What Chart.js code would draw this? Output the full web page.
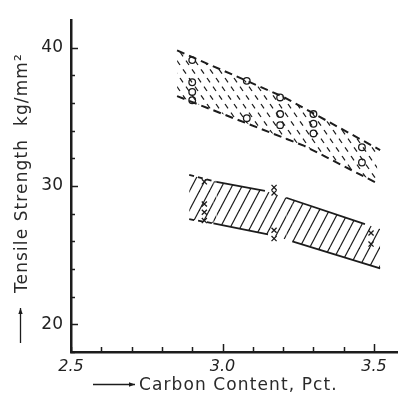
<!DOCTYPE html>
<html>
<head>
<meta charset="utf-8">
<script src="https://cdn.jsdelivr.net/npm/chart.js@4.4.1/dist/chart.umd.min.js"></script>
<style>
  html, body { margin: 0; padding: 0; background: #fff; }
</style>
</head>
<body>
<canvas id="tensileChart" width="403" height="394"></canvas>
<script>
// Tensile strength (kg/mm2) against carbon content (pct)

// axis ticks: every tick gets a mark, only these get a label
const xTicks = [2.5, 2.6, 2.7, 2.8, 2.9, 3.0, 3.1, 3.2, 3.3, 3.4, 3.5];
const xLabelTicks = [2.5, 3.0, 3.5];
const yTicks = [18, 20, 22, 24, 26, 28, 30, 32, 34, 36, 38, 40];
const yLabelTicks = [20, 30, 40];

// upper group, open circles
const circleC = [2.90, 2.90, 2.90, 2.90, 3.08, 3.08, 3.19, 3.19, 3.19, 3.30, 3.30, 3.30, 3.46, 3.46];
const circleT = [39.1, 37.5, 36.8, 36.2, 37.6, 34.9, 36.4, 35.2, 34.4, 35.2, 34.5, 33.8, 32.8, 31.7];

// lower group, crosses
const crossC = [2.94, 2.94, 2.94, 2.94, 3.17, 3.17, 3.17, 3.17, 3.49, 3.49];
const crossT = [30.3, 28.7, 28.1, 27.5, 29.9, 29.5, 26.8, 26.2, 26.6, 25.8];

// band limits
const upperTopC = [2.85, 3.20, 3.52];
const upperTopT = [39.8, 36.45, 32.6];
const upperBotC = [2.85, 3.27, 3.51];
const upperBotT = [36.5, 32.9, 30.2];
const lowerTopC = [2.89, 2.98, 3.14, 3.21, 3.47, 3.52];
const lowerTopT = [30.8, 30.3, 29.65, 29.15, 27.25, 26.9];
const lowerBotC = [2.89, 2.97, 3.15, 3.23, 3.52];
const lowerBotT = [27.6, 27.3, 26.5, 26.0, 24.05];

// how each piece of the lower band outline is drawn
const lowerTopSegs = ['dash', 'solid', 'gap', 'solid', 'gap'];
const lowerBotSegs = ['dash', 'solid', 'gap', 'solid'];

const INK = '#1c1c1c';

const pts = (xs, ys) => xs.map((x, i) => ({ x: x, y: ys[i] }));

function tile(w, h) {
  const c = document.createElement('canvas');
  c.width = w; c.height = h;
  const g = c.getContext('2d');
  g.strokeStyle = INK;
  g.lineWidth = 1.2;
  return [c, g];
}

// solid "/" hatch
function solidHatch(w, h) {
  const [c, g] = tile(w, h);
  for (let dx = -w; dx <= w; dx += w) {
    for (let dy = -h; dy <= h; dy += h) {
      g.beginPath();
      g.moveTo(dx, dy + h);
      g.lineTo(dx + w, dy);
      g.stroke();
    }
  }
  return g.createPattern(c, 'repeat');
}

// dashed "\" hatch; the line crosses the tile twice so neighbouring
// strokes get staggered dashes instead of lining up in rows
function dashedHatch(w, h, periods) {
  const [c, g] = tile(w, h);
  const piece = Math.hypot(w, h / 2);
  const period = 2 * piece / periods;
  g.setLineDash([period * 0.5, period * 0.5]);
  for (let dx = -w; dx <= w; dx += w) {
    for (let dy = -h; dy <= h; dy += h) {
      [0, 1].forEach(k => {
        g.lineDashOffset = k * piece;
        g.beginPath();
        g.moveTo(dx, dy + k * h / 2);
        g.lineTo(dx + w, dy + (k + 1) * h / 2);
        g.stroke();
      });
    }
  }
  return g.createPattern(c, 'repeat');
}

const upperHatch = dashedHatch(9, 26, 3);
const lowerHatch = solidHatch(10, 19);

function segStyle(list) {
  return {
    borderDash: ctx => list[ctx.p0DataIndex] === 'dash' ? [5, 4] : undefined,
    borderColor: ctx => list[ctx.p0DataIndex] === 'gap' ? 'rgba(0,0,0,0)' : undefined
  };
}

// inward tick marks plus the two arrowed axis titles
const axisDecor = {
  id: 'axisDecor',
  afterDraw(chart) {
    const { ctx, chartArea: a, scales: { x, y } } = chart;
    ctx.save();
    ctx.strokeStyle = INK;
    ctx.lineWidth = 1.5;
    ctx.beginPath();
    y.ticks.forEach(t => {
      const py = Math.round(y.getPixelForValue(t.value)) + 0.5;
      const len = yLabelTicks.includes(t.value) ? 7 : 4;
      ctx.moveTo(a.left, py);
      ctx.lineTo(a.left + len, py);
    });
    x.ticks.forEach(t => {
      const px = Math.round(x.getPixelForValue(t.value)) + 0.5;
      const len = xLabelTicks.includes(t.value) && t.value > 2.5 ? 8 : 5;
      ctx.moveTo(px, a.bottom);
      ctx.lineTo(px, a.bottom - len);
    });
    ctx.stroke();

    ctx.fillStyle = '#2a2a2a';
    ctx.font = '17px "DejaVu Sans"';
    ctx.textBaseline = 'alphabetic';
    ctx.textAlign = 'left';
    if ('letterSpacing' in ctx) ctx.letterSpacing = '1.1px';

    // x title
    arrow(ctx, 93, 384.5, 135, 384.5);
    ctx.fillText('Carbon Content, Pct.', 139, 390);

    // y title, reading upwards
    ctx.save();
    ctx.translate(27, 293);
    ctx.rotate(-Math.PI / 2);
    ctx.fillText('Tensile Strength  kg/mm\u00b2', 0, 0);
    ctx.restore();
    arrow(ctx, 20.5, 343, 20.5, 308);
    ctx.restore();
  }
};

function arrow(ctx, x0, y0, x1, y1) {
  const ang = Math.atan2(y1 - y0, x1 - x0);
  ctx.save();
  ctx.strokeStyle = INK;
  ctx.fillStyle = INK;
  ctx.lineWidth = 1.3;
  ctx.beginPath();
  ctx.moveTo(x0, y0);
  ctx.lineTo(x1, y1);
  ctx.stroke();
  ctx.beginPath();
  ctx.moveTo(x1, y1);
  ctx.lineTo(x1 - 6 * Math.cos(ang) + 2.2 * Math.sin(ang), y1 - 6 * Math.sin(ang) - 2.2 * Math.cos(ang));
  ctx.lineTo(x1 - 6 * Math.cos(ang) - 2.2 * Math.sin(ang), y1 - 6 * Math.sin(ang) + 2.2 * Math.cos(ang));
  ctx.closePath();
  ctx.fill();
  ctx.restore();
}

new Chart(document.getElementById('tensileChart'), {
  type: 'scatter',
  data: {
    datasets: [
      {
        data: pts(upperTopC, upperTopT),
        showLine: true, pointRadius: 0,
        borderColor: INK, borderWidth: 2, borderDash: [8, 5],
        fill: { target: '+1', above: upperHatch, below: upperHatch }
      },
      {
        data: pts(upperBotC, upperBotT),
        showLine: true, pointRadius: 0,
        borderColor: INK, borderWidth: 2, borderDash: [8, 5],
        fill: false
      },
      {
        data: pts(lowerTopC, lowerTopT),
        showLine: true, pointRadius: 0,
        borderColor: INK, borderWidth: 1.8,
        segment: segStyle(lowerTopSegs),
        fill: { target: '+1', above: lowerHatch, below: lowerHatch }
      },
      {
        data: pts(lowerBotC, lowerBotT),
        showLine: true, pointRadius: 0,
        borderColor: INK, borderWidth: 1.8,
        segment: segStyle(lowerBotSegs),
        fill: false
      },
      {
        data: pts(circleC, circleT),
        pointStyle: 'circle', pointRadius: 3.3,
        pointBackgroundColor: '#fff', pointBorderColor: INK, pointBorderWidth: 1.3
      },
      {
        data: pts(crossC, crossT),
        pointStyle: 'crossRot', pointRadius: 3.6,
        pointBorderColor: INK, pointBorderWidth: 1.3
      }
    ]
  },
  options: {
    responsive: false,
    animation: false,
    devicePixelRatio: 1,
    layout: { padding: { top: 20, right: 0, left: 0, bottom: 0 } },
    plugins: { legend: { display: false }, tooltip: { enabled: false } },
    scales: {
      x: {
        type: 'linear', min: 2.5, max: 3.578,
        afterBuildTicks: s => { s.ticks = xTicks.map(v => ({ value: v })); },
        afterFit: s => { s.height = 42; },
        grid: { display: false, drawTicks: false },
        border: { color: INK, width: 2.5 },
        ticks: {
          autoSkip: false, maxRotation: 0, padding: 5,
          color: '#222', font: { family: 'DejaVu Sans', size: 16, style: 'italic' },
          callback: v => xLabelTicks.includes(v) ? v.toFixed(1) : ''
        }
      },
      y: {
        type: 'linear', min: 18, max: 42,
        afterBuildTicks: s => { s.ticks = yTicks.map(v => ({ value: v })); },
        afterFit: s => { s.width = 71; },
        grid: { display: false, drawTicks: false },
        border: { color: INK, width: 2.5 },
        ticks: {
          autoSkip: false, padding: 8,
          color: '#222', font: { family: 'DejaVu Sans', size: 17 },
          callback: v => yLabelTicks.includes(v) ? String(v) : ''
        }
      }
    }
  },
  plugins: [axisDecor]
});
</script>
</body>
</html>
